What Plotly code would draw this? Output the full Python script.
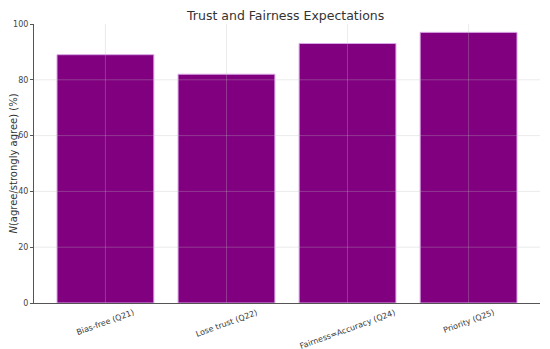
import plotly.graph_objects as go

categories = ["Bias-free (Q21)", "Lose trust (Q22)", "Fairness=Accuracy (Q24)", "Priority (Q25)"]
values = [89, 82, 93, 97]
y_ticks = [0, 20, 40, 60, 80, 100]

FONT = "DejaVu Sans"
x_idx = list(range(len(categories)))

fig = go.Figure()
fig.add_trace(go.Bar(
    x=x_idx, y=values, width=0.8,
    marker=dict(color="#800080", line=dict(color="#d9a6e6", width=1)),
))

# gridlines drawn above bars, like the reference
for t in y_ticks[1:-1]:
    fig.add_shape(type="line", xref="paper", x0=0, x1=1, yref="y", y0=t, y1=t,
                  line=dict(color="rgba(190,190,190,0.3)", width=1), layer="above")
for i in x_idx:
    fig.add_shape(type="line", yref="paper", y0=0, y1=1, xref="x", x0=i, x1=i,
                  line=dict(color="rgba(190,190,190,0.3)", width=1), layer="above")

# category labels, rotated and centred under each bar (top of label box just below axis)
for i, c in zip(x_idx, categories):
    fig.add_annotation(x=i, xref="x", y=-0.008, yref="paper", text=c, showarrow=False,
                       textangle=-20, xanchor="center", yanchor="top",
                       font=dict(family=FONT, size=8, color="#3a3a3a"))

# page body has an 8px default margin, so the figure is offset to compensate
fig.update_layout(
    width=534, height=341,
    margin=dict(l=26, r=2, t=16, b=46, pad=0, autoexpand=False),
    paper_bgcolor="white", plot_bgcolor="white",
    showlegend=False,
    title=dict(text="Trust and Fairness Expectations", x=0.52, xanchor="center",
               y=0.99, yanchor="top",
               font=dict(family=FONT, size=12.5, color="#333333")),
    font=dict(family=FONT, color="#444444"),
    bargap=0.2,
)
fig.update_xaxes(
    range=[-0.59, 3.59], tickmode="array", tickvals=x_idx, showticklabels=False,
    showgrid=False, zeroline=False, automargin=False,
    showline=True, linecolor="#555555", linewidth=1,
    ticks="", ticklen=0,
)
fig.update_yaxes(
    range=[0, 100], tickmode="array", tickvals=y_ticks,
    tickfont=dict(size=8, color="#444444"),
    showgrid=False, zeroline=False, automargin=False,
    showline=True, linecolor="#555555", linewidth=1,
    ticks="outside", ticklen=3, tickcolor="#555555",
    title=dict(text="<i>N</i>(agree/strongly agree) (%)", font=dict(size=10, color="#333333"), standoff=6),
)
fig.write_html("out.html")
